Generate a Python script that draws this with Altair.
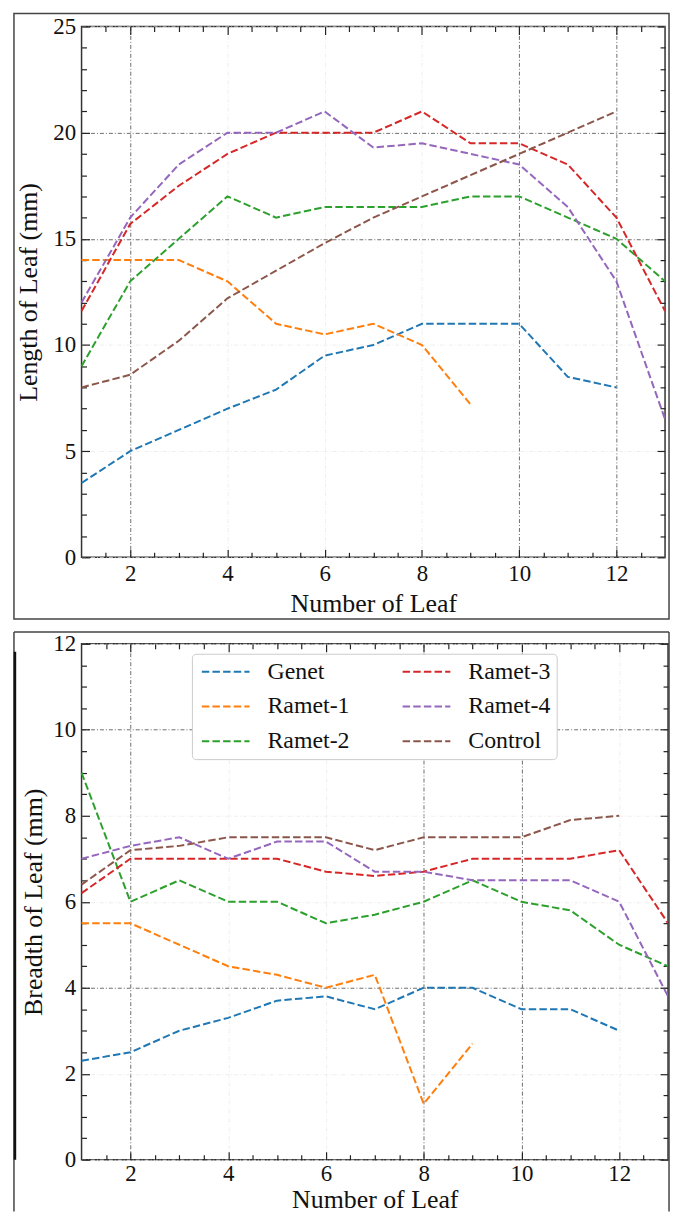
import altair as alt
import pandas as pd

FONT = "Liberation Serif"

leaf = list(range(1, 14))
series_names = ["Genet", "Ramet-1", "Ramet-2", "Ramet-3", "Ramet-4", "Control"]
series_colors = ["#1f77b4", "#ff7f0e", "#2ca02c", "#d62728", "#9467bd", "#8c564b"]

# Length of leaf (mm)
len_genet = [3.5, 5.0, 6.0, 7.0, 7.9, 9.5, 10.0, 11.0, 11.0, 11.0, 8.5, 8.0]
len_ramet1 = [14.0, 14.0, 14.0, 13.0, 11.0, 10.5, 11.0, 10.0, 7.2]
len_ramet2 = [9.0, 13.0, 15.0, 17.0, 16.0, 16.5, 16.5, 16.5, 17.0, 17.0, 16.0, 15.0, 13.0]
len_ramet3 = [11.6, 15.7, 17.5, 19.0, 20.0, 20.0, 20.0, 21.0, 19.5, 19.5, 18.5, 16.0, 11.6]
len_ramet4 = [12.0, 16.0, 18.5, 20.0, 20.0, 21.0, 19.3, 19.5, 19.0, 18.5, 16.5, 13.0, 6.5]
len_control = [8.0, 8.6, 10.2, 12.2, 13.5, 14.8, 16.0, 17.0, 18.0, 19.0, 20.0, 21.0]

# Breadth of leaf (mm)
br_genet = [2.3, 2.5, 3.0, 3.3, 3.7, 3.8, 3.5, 4.0, 4.0, 3.5, 3.5, 3.0]
br_ramet1 = [5.5, 5.5, 5.0, 4.5, 4.3, 4.0, 4.3, 1.3, 2.7]
br_ramet2 = [9.0, 6.0, 6.5, 6.0, 6.0, 5.5, 5.7, 6.0, 6.5, 6.0, 5.8, 5.0, 4.5]
br_ramet3 = [6.2, 7.0, 7.0, 7.0, 7.0, 6.7, 6.6, 6.7, 7.0, 7.0, 7.0, 7.2, 5.5]
br_ramet4 = [7.0, 7.3, 7.5, 7.0, 7.4, 7.4, 6.7, 6.7, 6.5, 6.5, 6.5, 6.0, 3.8]
br_control = [6.4, 7.2, 7.3, 7.5, 7.5, 7.5, 7.2, 7.5, 7.5, 7.5, 7.9, 8.0]

x_major = [2, 4, 6, 8, 10, 12]
x_minor = [v / 2 for v in range(3, 26) if v % 4 != 0]
len_y_major = [0, 5, 10, 15, 20, 25]
len_y_minor = [v for v in range(1, 25) if v % 5 != 0]
br_y_major = [0, 2, 4, 6, 8, 10, 12]
br_y_minor = [v / 2 for v in range(1, 24) if v % 4 != 0]


def to_long(lists):
    rows = []
    for name, vals in zip(series_names, lists):
        for i, v in enumerate(vals):
            rows.append({"leaf": leaf[i], "value": v, "series": name})
    return pd.DataFrame(rows)


len_df = to_long([len_genet, len_ramet1, len_ramet2, len_ramet3, len_ramet4, len_control])
br_df = to_long([br_genet, br_ramet1, br_ramet2, br_ramet3, br_ramet4, br_control])

DASH = [7.5, 3.2]
FRAME = "#444444"
PAD = {"left": 4, "top": 0, "right": 0, "bottom": 0}


def grid_color(vals):
    return {
        "condition": {"test": f"indexof({vals}, datum.value) >= 0", "value": "#6e6e6e"},
        "value": "#eeeeee",
    }


def tick_layer(df, xs, ys, xvals, yvals, size, xoff, yoff):
    # inward ticks: bottom/left axes shifted into the plot by an offset
    common = dict(tickSize=size, ticks=True, labels=False, domain=False,
                  grid=False, title=None, tickColor="#222", tickWidth=1.2)
    ax = alt.Axis(orient="bottom", values=xvals, offset=xoff, **common)
    ay = alt.Axis(orient="left", values=yvals, offset=yoff, **common)
    return alt.Chart(df).mark_point(opacity=0).encode(
        x=alt.X("leaf:Q", scale=xs, axis=ax),
        y=alt.Y("value:Q", scale=ys, axis=ay),
    )


def one():
    return alt.Chart(alt.Data(values=[{}]))


def panel(df, ymax, y_major, y_minor, ytitle, dark_x, dark_y, w, h, frame, legend,
          ytitle_pad, xlabel_pad, xtitle_pad, open_bottom=False):
    xs = alt.Scale(domain=[1, 13], nice=False, zero=False)
    ys = alt.Scale(domain=[0, ymax], nice=False, zero=False)
    main_x = alt.Axis(orient="bottom", values=x_major, ticks=False, domain=False, grid=True,
                      gridColor=grid_color(dark_x), gridDash=[4, 2, 1, 2], gridWidth=1,
                      labelFont=FONT, labelFontSize=23, labelColor="#111", labelPadding=xlabel_pad,
                      labelFlush=False, labelOverlap=False, format="d",
                      title="Number of Leaf", titleFont=FONT, titleFontSize=26,
                      titleFontWeight="normal", titleColor="#111", titlePadding=xtitle_pad)
    main_y = alt.Axis(orient="left", values=y_major, ticks=False, domain=False, grid=True,
                      gridColor=grid_color(dark_y), gridDash=[4, 2, 1, 2], gridWidth=1,
                      labelFont=FONT, labelFontSize=23, labelColor="#111", labelPadding=6,
                      labelFlush=False, labelOverlap=False, format="d",
                      title=ytitle, titleFont=FONT, titleFontSize=26,
                      titleFontWeight="normal", titleColor="#111", titlePadding=ytitle_pad)
    color = alt.Color("series:N", scale=alt.Scale(domain=series_names, range=series_colors),
                      legend=legend)
    lines = alt.Chart(df).mark_line(strokeDash=DASH, strokeWidth=2).encode(
        x=alt.X("leaf:Q", scale=xs, axis=main_x),
        y=alt.Y("value:Q", scale=ys, axis=main_y),
        color=color,
        order=alt.Order("leaf:Q"),
    )
    layers = [
        lines,
        # bottom / left edges
        tick_layer(df, xs, ys, x_major, y_major, 8, -8, -8),
        tick_layer(df, xs, ys, x_minor, y_minor, 5, -5, -5),
        # top / right edges (axis line moved to the opposite side)
        tick_layer(df, xs, ys, x_major, y_major, 8, -h, -w),
        tick_layer(df, xs, ys, x_minor, y_minor, 5, -h, -w),
    ]
    fx1, fx2, fy1, fy2 = frame
    if not open_bottom:
        layers.append(
            one().mark_rect(fillOpacity=0, stroke=FRAME, strokeWidth=1.5).encode(
                x=alt.value(fx1), x2=alt.value(fx2), y=alt.value(fy1), y2=alt.value(fy2))
        )
    else:
        rule = one().mark_rule(color=FRAME, strokeWidth=1.5)
        layers += [
            rule.encode(x=alt.value(fx1), x2=alt.value(fx2), y=alt.value(fy1)),
            rule.encode(x=alt.value(fx1), y=alt.value(fy1), y2=alt.value(fy2)),
            rule.encode(x=alt.value(fx2), y=alt.value(fy1), y2=alt.value(fy2)),
            one().mark_rule(color="#111", strokeWidth=2.5).encode(
                x=alt.value(fx1 + 1), y=alt.value(8), y2=alt.value(h)),
        ]
    return alt.layer(*layers).resolve_axis(x="independent", y="independent").properties(
        width=w, height=h)


legend2 = alt.Legend(
    orient="none", legendX=111, legendY=10, columns=2, title=None,
    symbolType="M-1,0H5", symbolStrokeWidth=2, symbolDash=DASH, symbolSize=256,
    symbolFillColor="transparent",
    labelFont=FONT, labelFontSize=24, labelColor="#111", labelOffset=46,
    columnPadding=49, rowPadding=11, padding=6,
    strokeColor="#cccccc", cornerRadius=4, fillColor="white",
)

H2 = 519
top = panel(len_df, 25, len_y_major, len_y_minor, "Length of Leaf (mm)",
            [2, 10, 12], [15, 20], 587, 534, (-68, 591, -13, 596), None,
            ytitle_pad=11, xlabel_pad=5, xtitle_pad=5)
bottom = panel(br_df, 12, br_y_major, br_y_minor, "Breadth of Leaf (mm)",
               [2, 8, 10], [4, 10], 590, H2, (-68, 591, -12, H2 + 52), legend2,
               ytitle_pad=6, xlabel_pad=3, xtitle_pad=1, open_bottom=True)

chart = alt.concat(top, bottom, columns=1, spacing=9, padding=PAD).resolve_scale(
    color="independent"
).properties(
    background="white",
).configure(padding=PAD).configure_view(stroke="#333", strokeWidth=1.5)

chart.save("out.html", embed_options={"renderer": "svg", "actions": False})
